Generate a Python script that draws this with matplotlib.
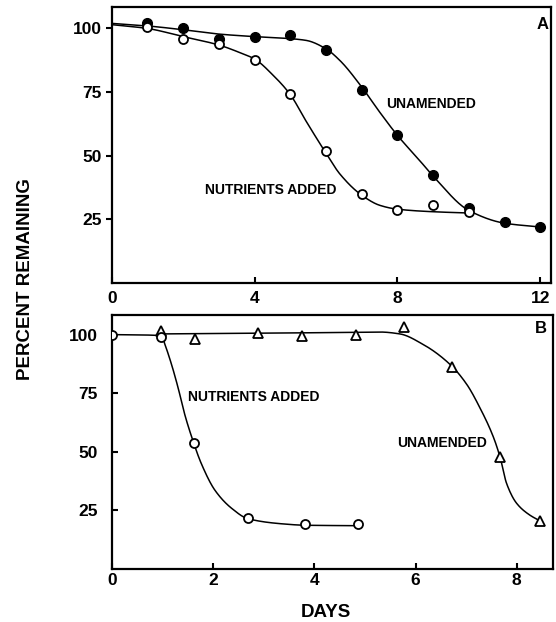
import numpy as np
import matplotlib
matplotlib.use("Agg")
import matplotlib.pyplot as plt

plt.rcParams['font.family'] = ['Liberation Sans', 'DejaVu Sans']
plt.rcParams['font.weight'] = 'bold'

# ---------------- Panel A data ----------------
a_unam_x = [1, 2, 3, 4, 5, 6, 7, 8, 9, 10, 11, 12]
a_unam_y = [102, 100, 96, 96.7, 97.4, 91.7, 75.9, 58.1, 42.5, 29.5, 24, 22]
a_nutr_x = [1, 2, 3, 4, 5, 6, 7, 8, 9, 10]
a_nutr_y = [100.5, 96, 94, 87.8, 74.1, 52, 34.9, 28.8, 30.7, 28]
# hand-drawn smooth curves (knots)
a_unam_cx = [0, 1, 2, 3, 4, 5, 5.45, 6, 6.39, 7, 7.51, 8, 8.63, 9, 10, 11, 12]
a_unam_cy = [102, 101, 99.5, 97.8, 96.8, 96, 95.3, 92, 87.4, 77, 67, 58, 48, 42, 28.5, 23.5, 22]
a_nutr_cx = [0, 1, 2, 3, 3.59, 4, 4.52, 5, 5.45, 6, 6.39, 7, 7.51, 8, 9, 10]
a_nutr_cy = [101.5, 100, 96.8, 93.5, 90.5, 88, 81.6, 74, 63.4, 51, 42.8, 34.5, 30.5, 29, 28, 27.5]

# ---------------- Panel B data ----------------
b_nutr_x = [0, 0.98, 1.63, 2.69, 3.81, 4.86]
b_nutr_y = [100, 98.9, 53.7, 21.8, 19, 19]
b_unam_x = [0.98, 1.64, 2.89, 3.76, 4.83, 5.77, 6.73, 7.67, 8.45]
b_unam_y = [101.7, 98.3, 100.7, 99.6, 99.7, 103.1, 86.1, 47.6, 20.4]
b_nutr_cx = [0, 0.98, 1.05, 1.18, 1.31, 1.44, 1.57, 1.77, 2.04, 2.37, 2.69, 3.42, 3.81, 4.86]
b_nutr_cy = [100, 99.6, 95.8, 87.3, 77.3, 66, 56.8, 44.8, 33.4, 25.7, 21.3, 19, 18.5, 18.3]
b_unam_cx = [1.0, 3.0, 4.83, 5.30, 5.69, 6.15, 6.68, 7.01, 7.27, 7.54, 7.67, 7.80, 8.0, 8.26, 8.43]
b_unam_cy = [100.3, 100.6, 101, 101.1, 100.3, 95.8, 87.3, 78.8, 68.8, 56.1, 47.6, 36.3, 27.8, 22.8, 20.7]

x_ticks_a = [0, 4, 8, 12]
x_ticks_b = [0, 2, 4, 6, 8]
y_ticks = [25, 50, 75, 100]


def pchip(xk, yk, n=500):
    xk = np.asarray(xk, float)
    yk = np.asarray(yk, float)
    h = np.diff(xk)
    d = np.diff(yk) / h
    m = np.zeros_like(xk)
    for i in range(1, len(xk) - 1):
        if d[i - 1] * d[i] > 0:
            w1 = 2 * h[i] + h[i - 1]
            w2 = h[i] + 2 * h[i - 1]
            m[i] = (w1 + w2) / (w1 / d[i - 1] + w2 / d[i])
    m[0] = d[0]
    m[-1] = d[-1]
    xs = np.linspace(xk[0], xk[-1], n)
    idx = np.clip(np.searchsorted(xk, xs) - 1, 0, len(xk) - 2)
    t = (xs - xk[idx]) / h[idx]
    h00 = 2 * t**3 - 3 * t**2 + 1
    h10 = t**3 - 2 * t**2 + t
    h01 = -2 * t**3 + 3 * t**2
    h11 = t**3 - t**2
    ys = (h00 * yk[idx] + h10 * h[idx] * m[idx] + h01 * yk[idx + 1]
          + h11 * h[idx] * m[idx + 1])
    return xs, ys


fig = plt.figure(figsize=(5.56, 6.22), dpi=100)
axA = fig.add_axes([0.201, 0.545, 0.790, 0.444])
axB = fig.add_axes([0.201, 0.086, 0.794, 0.408])

lw = 1.1
tick_fs = 12.5
lab_fs = 10
for ax in (axA, axB):
    for s in ax.spines.values():
        s.set_linewidth(1.6)
    ax.set_ylim(0, 108.5)
    ax.set_yticks(y_ticks)
    ax.tick_params(axis='both', labelsize=tick_fs, width=1.5, length=4, direction='in')

# Panel A
axA.set_xlim(0, 12.3)
axA.set_xticks(x_ticks_a)
axA.tick_params(axis='y', direction='out', pad=3)
axA.tick_params(axis='x', pad=6)
cx, cy = pchip(a_unam_cx, a_unam_cy)
axA.plot(cx, cy, color='black', lw=lw, zorder=2)
cx, cy = pchip(a_nutr_cx, a_nutr_cy)
axA.plot(cx, cy, color='black', lw=lw, zorder=2)
axA.plot(a_unam_x, a_unam_y, 'o', ms=7, color='black', zorder=3)
axA.plot(a_nutr_x, a_nutr_y, 'o', ms=6.5, mfc='white', mec='black', mew=1.3, zorder=4)
axA.text(8.93, 70.5, 'UNAMENDED', fontsize=lab_fs, fontweight='bold', ha='center', va='center')
axA.text(4.46, 36.4, 'NUTRIENTS ADDED', fontsize=lab_fs, fontweight='bold', ha='center', va='center')
axA.text(0.981, 0.935, 'A', transform=axA.transAxes, fontsize=12, fontweight='bold',
         ha='center', va='center')

# Panel B
axB.set_xlim(0, 8.72)
axB.set_xticks(x_ticks_b)
axB.tick_params(axis='y', pad=10)
axB.tick_params(axis='x', pad=3.5)
cx, cy = pchip(b_nutr_cx, b_nutr_cy)
axB.plot(cx, cy, color='black', lw=lw, zorder=2)
cx, cy = pchip(b_unam_cx, b_unam_cy)
axB.plot(cx, cy, color='black', lw=lw, zorder=2)
axB.plot(b_unam_x, b_unam_y, '^', ms=7.5, mfc='white', mec='black', mew=1.3, zorder=3)
axB.plot(b_nutr_x, b_nutr_y, 'o', ms=6.5, mfc='white', mec='black', mew=1.3, zorder=4)
axB.text(1.51, 73.4, 'NUTRIENTS ADDED', fontsize=lab_fs, fontweight='bold', ha='left', va='center')
axB.text(6.53, 53.5, 'UNAMENDED', fontsize=lab_fs, fontweight='bold', ha='center', va='center')
axB.text(0.972, 0.944, 'B', transform=axB.transAxes, fontsize=12, fontweight='bold',
         ha='center', va='center')

for ax in (axA, axB):
    for lab in ax.get_xticklabels() + ax.get_yticklabels():
        lab.set_fontweight('bold')

fig.text(0.586, 0.016, 'DAYS', fontsize=13.5, fontweight='bold', ha='center', va='center')
fig.text(0.045, 0.552, 'PERCENT REMAINING', rotation=90, fontsize=13.5, fontweight='bold',
         ha='center', va='center')

fig.savefig('out.png', dpi=100)
